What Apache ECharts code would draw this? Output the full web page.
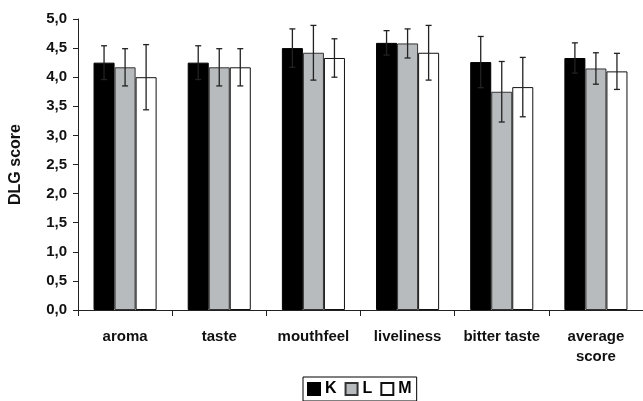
<!DOCTYPE html>
<html>
<head>
<meta charset="utf-8">
<script src="https://cdn.jsdelivr.net/npm/echarts@6/dist/echarts.min.js"></script>
<style>
html,body{margin:0;padding:0;background:#fff;}
#chart{width:643px;height:401px;}
</style>
</head>
<body>
<div id="chart"></div>
<script>
// categories and tick labels
var categories = ['aroma', 'taste', 'mouthfeel', 'liveliness', 'bitter taste', 'average\nscore'];
var seriesNames = ['K', 'L', 'M'];
// mean DLG scores
var kValues = [4.25, 4.25, 4.50, 4.59, 4.26, 4.33];
var lValues = [4.17, 4.17, 4.42, 4.58, 3.75, 4.15];
var mValues = [4.00, 4.17, 4.33, 4.42, 3.83, 4.10];
// standard deviation (error bars)
var kErr = [0.29, 0.29, 0.33, 0.21, 0.44, 0.26];
var lErr = [0.32, 0.32, 0.47, 0.25, 0.52, 0.27];
var mErr = [0.56, 0.32, 0.33, 0.47, 0.51, 0.31];

var font = 'Liberation Sans, Arial, sans-serif';
var barPct = 0.2233;

function errData(vals, errs){
	var out = [];
	for(var i=0;i<vals.length;i++){
		out.push([i, vals[i] - errs[i], vals[i] + errs[i]]);
	}
	return out;
}

function errSeries(vals, errs, idx){
	return {
		type:'custom',
		z:10,
		silent:true,
		data:errData(vals, errs),
		renderItem:function(params, api){
			var band = api.size([1,0])[0];
			var off = (idx-1) * band * barPct;
			var lo = api.coord([api.value(0), api.value(1)]);
			var hi = api.coord([api.value(0), api.value(2)]);
			var x = lo[0] + off;
			var cap = 3;
			var st = {stroke:'#222', lineWidth:1.3};
			return {
				type:'group',
				children:[
					{type:'line', shape:{x1:x, y1:lo[1], x2:x, y2:hi[1]}, style:st},
					{type:'line', shape:{x1:x-cap, y1:lo[1], x2:x+cap, y2:lo[1]}, style:st},
					{type:'line', shape:{x1:x-cap, y1:hi[1], x2:x+cap, y2:hi[1]}, style:st}
				]
			};
		}
	};
}

function barSeries(name, vals, color, border){
	return {
		name:name,
		type:'bar',
		data:vals,
		barWidth:(barPct*100)+'%',
		barGap:'0%',
		itemStyle:{color:color, borderColor:border, borderWidth:1},
		emphasis:{disabled:true}
	};
}

var chart = echarts.init(document.getElementById('chart'));
var option = {
	animation:false,
	backgroundColor:'#fff',
	textStyle:{fontFamily:font},
	grid:{left:71, top:19, width:576, height:291},
	legend:{
		data:seriesNames,
		left:303,
		top:377,
		itemWidth:12,
		itemHeight:12,
		itemGap:8,
		padding:[4,5,4,4],
		borderColor:'#000',
		borderWidth:1,
		icon:'rect',
		textStyle:{fontFamily:font, fontWeight:'bold', fontSize:16, color:'#000', padding:[0,0,0,0]}
	},
	xAxis:{
		type:'category',
		data:categories,
		axisLine:{lineStyle:{color:'#222', width:1}},
		axisTick:{show:true, length:6, lineStyle:{color:'#222'}},
		axisLabel:{interval:0, fontFamily:font, fontWeight:'bold', fontSize:15, color:'#111', margin:17, lineHeight:20}
	},
	yAxis:{
		type:'value',
		min:0,
		max:5,
		interval:0.5,
		name:'DLG score',
		nameLocation:'middle',
		nameGap:54,
		nameTextStyle:{fontFamily:font, fontWeight:'bold', fontSize:16, color:'#111'},
		splitLine:{show:false},
		axisLine:{show:true, lineStyle:{color:'#222', width:1}},
		axisTick:{show:true, length:5, lineStyle:{color:'#222'}},
		axisLabel:{fontFamily:font, fontWeight:'bold', fontSize:15, color:'#111', margin:11,
			formatter:function(v){ return v.toFixed(1).replace('.', ','); }}
	},
	series:[
		barSeries('K', kValues, '#000', '#000'),
		barSeries('L', lValues, '#b7bbbd', '#333'),
		barSeries('M', mValues, '#fff', '#111'),
		errSeries(kValues, kErr, 0),
		errSeries(lValues, lErr, 1),
		errSeries(mValues, mErr, 2)
	]
};
chart.setOption(option);
</script>
</body>
</html>
